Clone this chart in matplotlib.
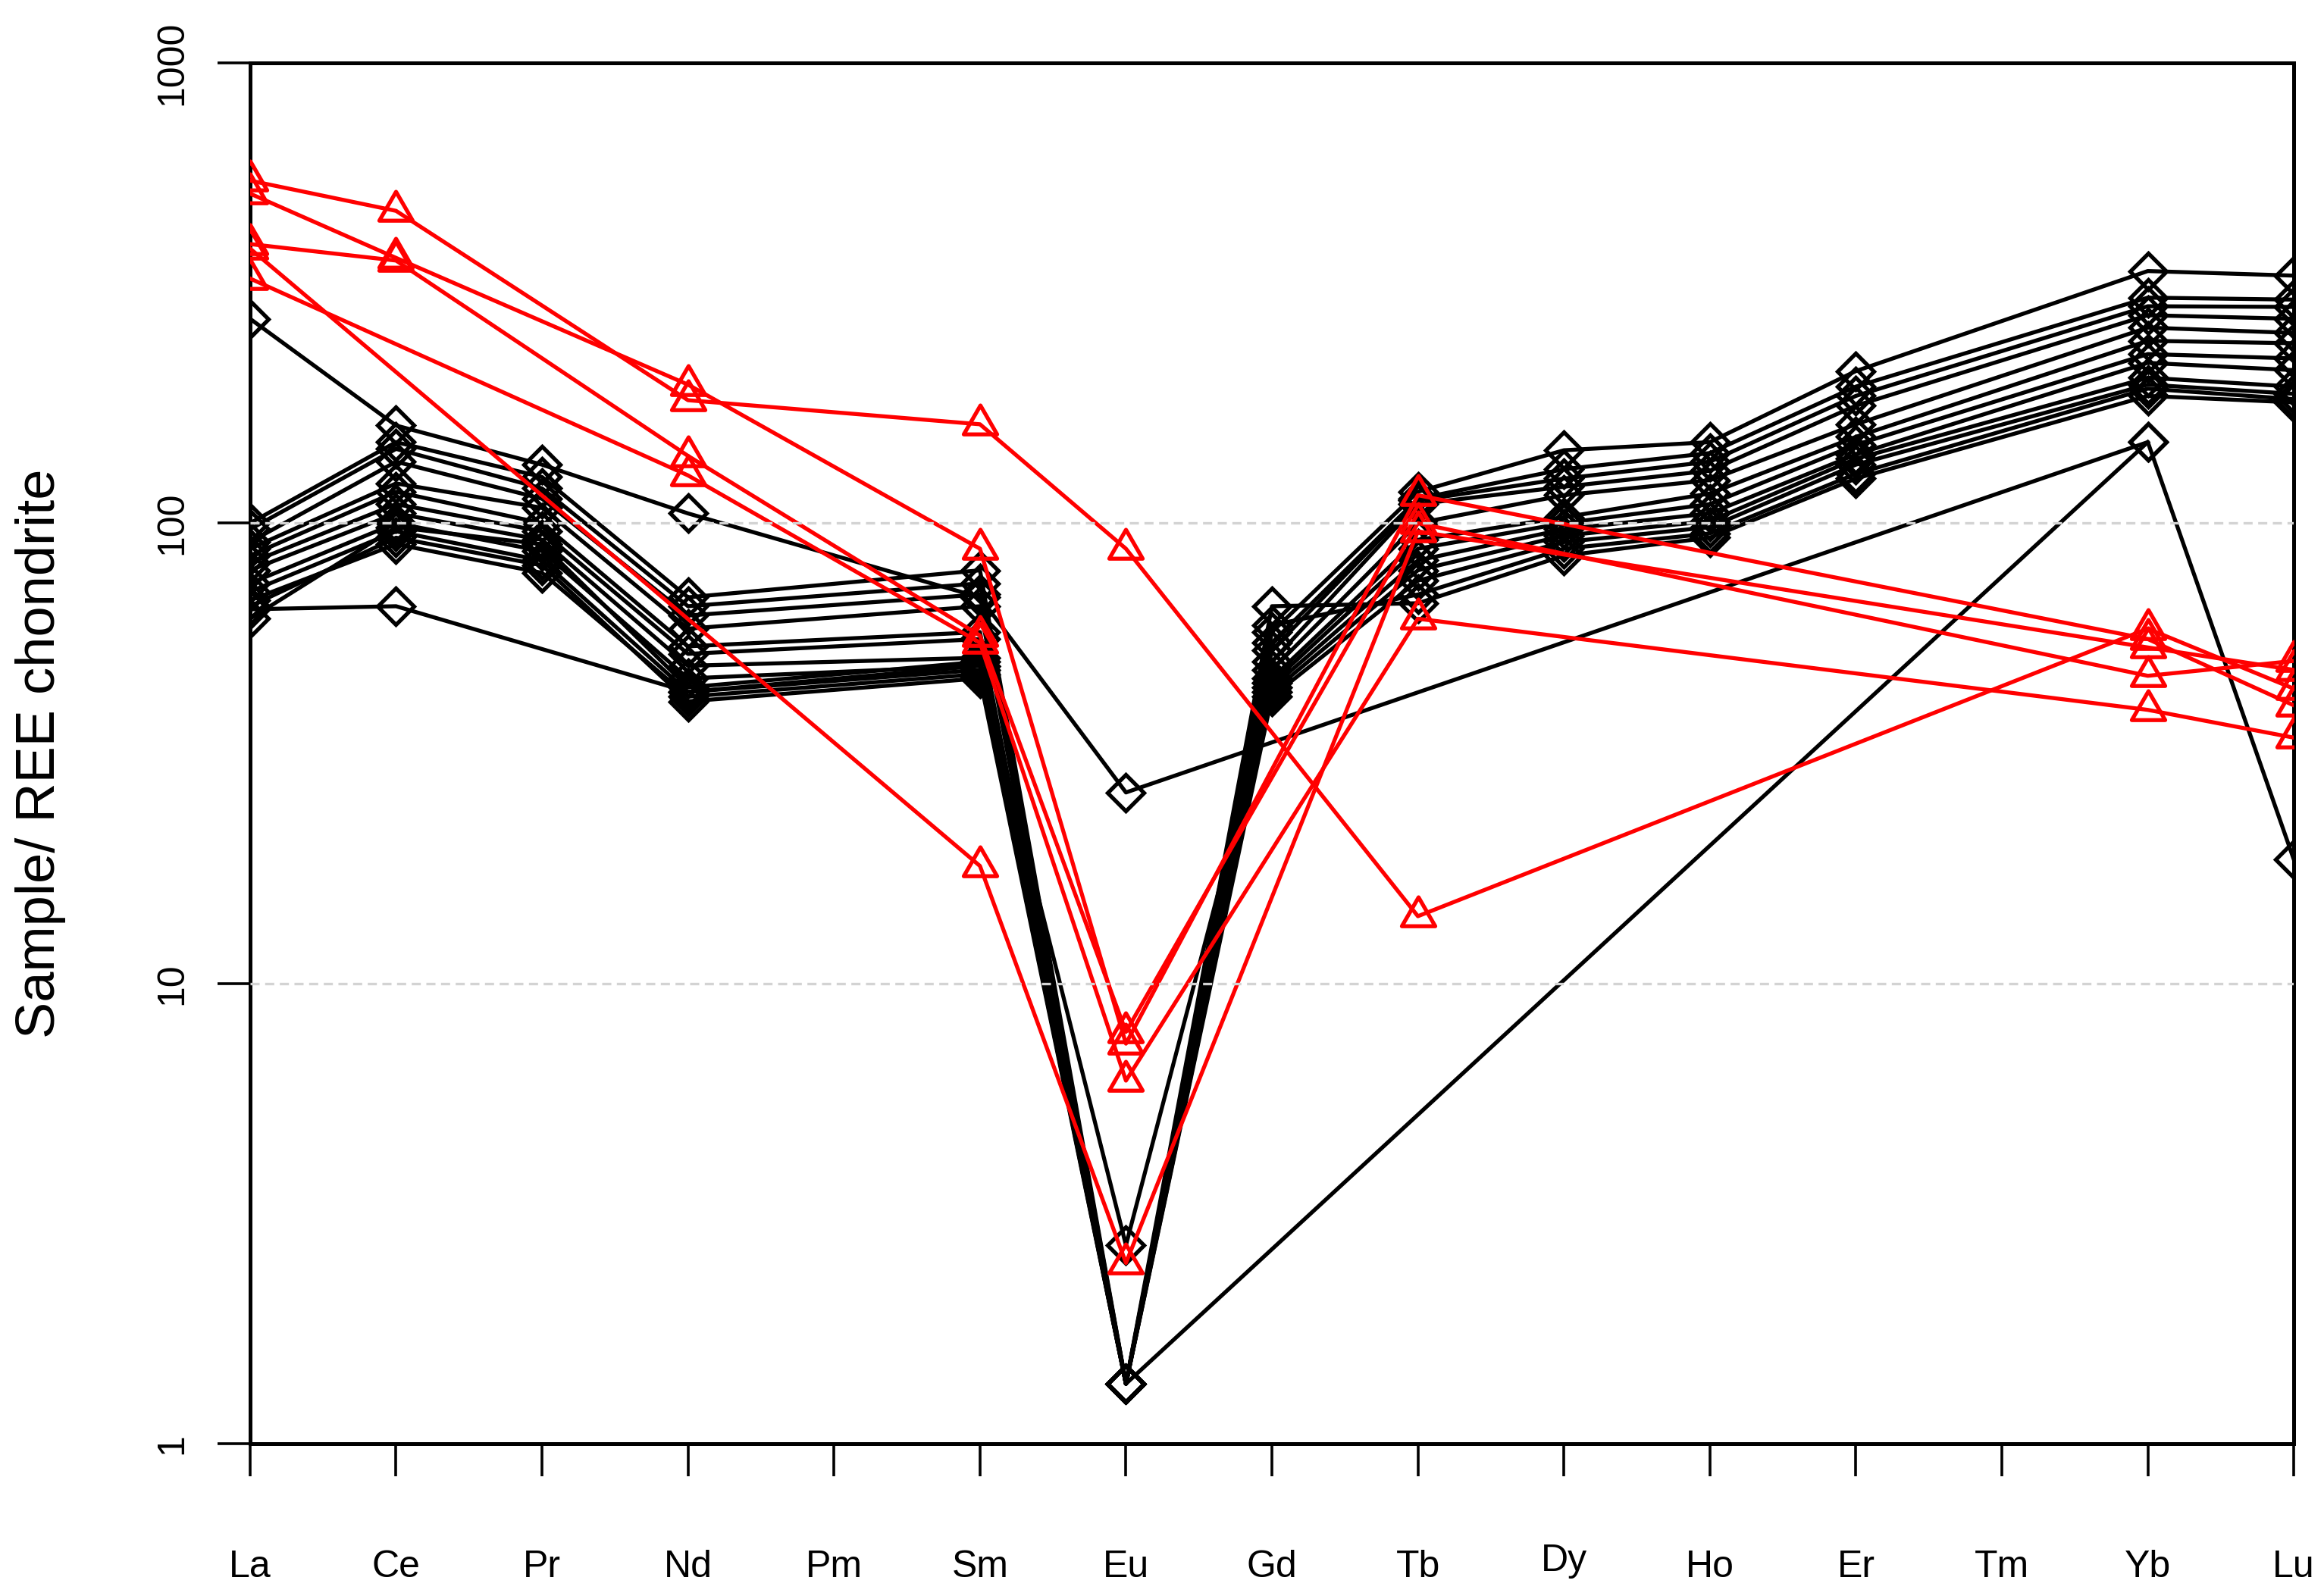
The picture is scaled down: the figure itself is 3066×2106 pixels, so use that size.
import numpy as np
import matplotlib
matplotlib.use("Agg")
import matplotlib.pyplot as plt
from matplotlib.path import Path
from matplotlib.ticker import NullLocator
from matplotlib.transforms import ScaledTranslation

nan = np.nan

elements = ["La", "Ce", "Pr", "Nd", "Pm", "Sm", "Eu", "Gd", "Tb", "Dy", "Ho", "Er", "Tm", "Yb", "Lu"]
y_ticks = [1, 10, 100, 1000]
y_tick_labels = ["1", "10", "100", "1000"]
grid_levels = [10, 100]

# black samples (open diamonds)
#      La   Ce   Pr   Nd  Pm   Sm  Eu    Gd  Tb   Dy   Ho   Er  Tm   Yb   Lu
b01 = [100, 150, 126, 69, nan, 79, 1.35, 58, 117, 144, 150, 214, nan, 353, 345]
b02 = [97, 145, 119, 66, nan, 74, 1.35, 55, 113, 131, 142, 198, nan, 309, 306]
b03 = [91, 136, 113, 63, nan, 70, 1.35, 53, 112, 125, 136, 189, nan, 296, 295]
b04 = [88, 122, 108, 59, nan, 66, 1.35, 50, 110, 120, 130, 180, nan, 283, 278]
b05 = [85, 117, 100, 54, nan, 58, 1.35, 48, 100, 115, 124, 164, nan, 266, 259]
b06 = [82, 110, 96, 52, nan, 56, 1.35, 46, 92, 103, 116, 154, nan, 249, 246]
b07 = [79, 105, 92, 49, nan, 51, 1.35, 45, 88, 100, 110, 148, nan, 233, 228]
b08 = [74, 100, 87, 46, nan, 49, 2.7, 44, 83, 97, 105, 141, nan, 223, 215]
b09 = [71, 96, 83, 43, nan, 48, 1.35, 43, 79, 94, 101, 138, nan, 207, 198]
b10 = [68, 90, 78, 42, nan, 47, 1.35, 42, 75, 91, 98, 134, nan, 200, 191]
b11 = [65, 66, nan, 43, nan, 49, 1.35, 60, 70, 88, 95, 128, nan, 196, 186]
b12 = [66, 93, 81, 41, nan, 46, 1.35, 66, 67, 85, 93, 125, nan, 189, 183]
b13 = [278, 163, 134, 105, nan, 69, 26, nan, nan, nan, nan, nan, nan, 150, 18.6]
b14 = [62, 98, 90, 44, nan, 50, 1.35, nan, nan, nan, nan, nan, nan, 150, nan]

# red samples (open triangles)
r01 = [555, 477, nan, 185, nan, 164, 88, nan, 14, nan, nan, nan, nan, 59, 43.7]
r02 = [520, 377, nan, 200, nan, 88, 7.4, nan, 115, nan, nan, nan, nan, 56, 40.2]
r03 = [404, 372, nan, 140, nan, 57, 7.85, nan, 100, nan, nan, nan, nan, 46.6, 50.2]
r04 = [395, nan, nan, nan, nan, 18, 2.47, nan, 96, nan, nan, nan, nan, 53.7, 48]
r05 = [340, nan, nan, 127, nan, 55, 6.15, nan, 62, nan, nan, nan, nan, 39.3, 34.2]

black_samples = [b01, b02, b03, b04, b05, b06, b07, b08, b09, b10, b11, b12, b13, b14]
red_samples = [r01, r02, r03, r04, r05]

plt.rcParams["font.family"] = ["Liberation Sans", "DejaVu Sans"]

triangle = Path([(0, 1), (-0.866, -0.5), (0.866, -0.5), (0, 1)], closed=True)


def draw_sample(ax, values, color, marker, ms):
    y = np.array(values, dtype=float)
    x = np.arange(len(y))
    ok = ~np.isnan(y)
    ax.plot(x[ok], y[ok], color=color, lw=1.9, marker=marker, ms=ms,
            mfc="none", mec=color, mew=1.9, zorder=3)


fig = plt.figure(figsize=(15.33, 10.53), dpi=200)
ax = fig.add_axes([0.1076, 0.0954, 0.8794, 0.8652])

for s in black_samples:
    draw_sample(ax, s, "black", "D", 12)
for s in red_samples:
    draw_sample(ax, s, "red", triangle, 18.3)

for lvl in grid_levels:
    ax.axhline(lvl, color="#D3D3D3", lw=1.2, ls=(0, (3.6, 2.2)), zorder=5)

ax.set_yscale("log")
ax.set_ylim(1, 1000)
ax.set_xlim(0, len(elements) - 1)
ax.set_yticks(y_ticks)
ax.set_yticklabels(y_tick_labels)
ax.yaxis.set_minor_locator(NullLocator())
ax.set_xticks(range(len(elements)))
ax.set_xticklabels(elements)

ax.tick_params(axis="x", length=15.5, width=1.3, pad=35, labelsize=18)
ax.tick_params(axis="y", length=15.5, width=1.3, pad=13, labelsize=18, labelrotation=90)
for lab in ax.get_yticklabels():
    lab.set_va("center")

for sp in ax.spines.values():
    sp.set_linewidth(1.8)

ax.set_ylabel("Sample/ REE chondrite", fontsize=26)
ax.yaxis.set_label_coords(-0.0901, 0.5)

# Dy sits a little higher than the other labels in the original
for lab in ax.get_xticklabels():
    if lab.get_text() == "Dy":
        lab.set_transform(lab.get_transform() + ScaledTranslation(0, 2.9 / 72, fig.dpi_scale_trans))

fig.savefig("out.png", dpi=200)
